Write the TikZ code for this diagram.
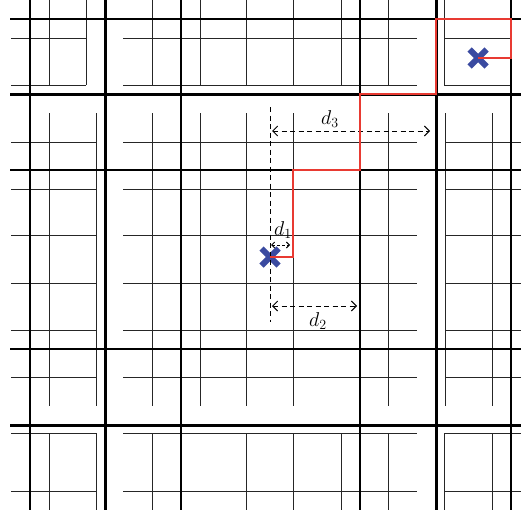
\RequirePackage{fix-cm}
\documentclass[tikz,border=0pt]{standalone}
\usetikzlibrary{arrows.meta,shapes.misc}
\definecolor{xblue}{RGB}{58,74,160}
\definecolor{pathred}{RGB}{232,58,50}
\tikzset{
  thinln/.style={line width=1pt,black!85},
  medln/.style={line width=2pt,black},
  thickln/.style={line width=3pt,black},
  redpath/.style={line width=1.5pt,pathred},
  marker/.style={cross out,draw=xblue,line width=6pt,minimum size=11pt,inner sep=0pt},
  dimln/.style={dashed,dash pattern=on 5pt off 3.5pt,line width=0.9pt,black},
  dimarrow/.style={dimln,{Straight Barb[length=5pt,width=10pt]}-{Straight Barb[length=5pt,width=10pt]}},
  smallarrow/.style={dimln,dash pattern=on 3pt off 2pt,{Straight Barb[length=3pt,width=6pt]}-{Straight Barb[length=3pt,width=6pt]}},
  lbl/.style={font=\fontsize{20}{24}\selectfont,inner sep=0pt}
}
\begin{document}
\begin{tikzpicture}[x=1pt,y=-1pt]
\useasboundingbox (0,0) rectangle (521,514);
% ---------- thin lines: top row ----------
\foreach \x in {49,86} \draw[thinln] (\x,0) -- (\x,85);
\foreach \y in {38,85} \draw[thinln] (11,\y) -- (86,\y);
\foreach \x in {152,200,246,293,341,388} \draw[thinln] (\x,0) -- (\x,85);
\foreach \y in {38,85} \draw[thinln] (123,\y) -- (417,\y);
\draw[thinln] (444,0) -- (444,85);
\foreach \y in {38,85} \draw[thinln] (444,\y) -- (511,\y);
% ---------- thin lines: middle row ----------
\foreach \x in {49,96} \draw[thinln] (\x,113) -- (\x,406);
\foreach \x in {152,200,246,293,388} \draw[thinln] (\x,113) -- (\x,406);
\foreach \x in {445,492} \draw[thinln] (\x,113) -- (\x,406);
\foreach \y in {142,189,235,283,330,377} {
  \draw[thinln] (11,\y) -- (96,\y);
  \draw[thinln] (123,\y) -- (417,\y);
  \draw[thinln] (445,\y) -- (521,\y);
}
% ---------- thin lines: bottom row ----------
\foreach \x in {49,96} \draw[thinln] (\x,433) -- (\x,510);
\foreach \x in {152,246,293,341,388} \draw[thinln] (\x,433) -- (\x,510);
\foreach \x in {444,492} \draw[thinln] (\x,433) -- (\x,510);
\foreach \y in {433,491} {
  \draw[thinln] (11,\y) -- (96,\y);
  \draw[thinln] (123,\y) -- (417,\y);
  \draw[thinln] (444,\y) -- (521,\y);
}
% ---------- roads ----------
\foreach \y in {19,170,349} \draw[medln] (10,\y) -- (521,\y);
\foreach \y in {94,425} \draw[thickln] (10,\y) -- (521,\y);
\foreach \x in {30,181,360,511} \draw[medln] (\x,0) -- (\x,510);
\foreach \x in {105,436} \draw[thickln] (\x,0) -- (\x,510);
% ---------- markers ----------
\node[marker] (s) at (270,257) {};
\node[marker] (t) at (478,58) {};
% ---------- dimension lines ----------
\coordinate (vt) at (270,107);
\coordinate (vb) at (270,322);
\draw[dimln] (vt) -- (vb);
\coordinate (d3a) at (272,131);
\coordinate (d3b) at (430,131);
\draw[dimarrow] (d3a) -- (d3b);
\coordinate (d2a) at (272,306);
\coordinate (d2b) at (357,306);
\draw[dimarrow] (d2a) -- (d2b);
\coordinate (d1a) at (271,245);
\coordinate (d1b) at (290,245);
\draw[smallarrow] (d1a) -- (d1b);
\node[lbl] (l3) at (330,119) {$d_3$};
\node[lbl] (l2) at (318,321) {$d_2$};
\node[lbl] (l1) at (283,230) {$d_1$};
% ---------- red route ----------
\draw[redpath] (s.center) -- (293,257) -- (293,170) -- (360,170) -- (360,94)
  -- (436,94) -- (436,19) -- (511,19) -- (511,58) -- (t.center);
\end{tikzpicture}
\end{document}
